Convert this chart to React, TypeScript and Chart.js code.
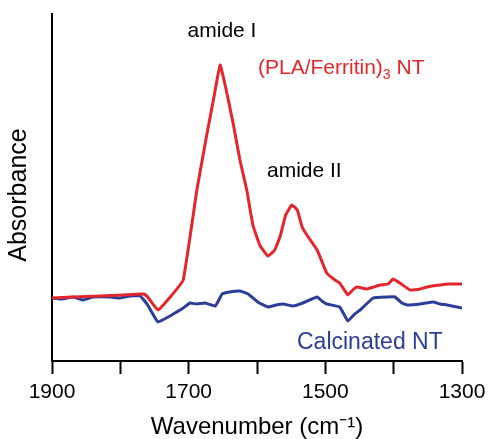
import React, { useEffect, useRef } from "react";
import { Chart, registerables } from "chart.js";

Chart.register(...registerables);

// (PLA/Ferritin)3 NT spectrum (arbitrary absorbance units)
const redWavenumbers = [
  1900, 1869, 1830, 1796, 1771, 1766, 1760, 1745, 1727, 1708, 1688, 1673, 1663, 1654,
  1646, 1635, 1625, 1615, 1606, 1596, 1584, 1574, 1566, 1558, 1549, 1541, 1534, 1527,
  1512, 1498, 1486, 1479, 1467, 1460, 1454, 1439, 1420, 1408, 1401, 1391, 1376, 1361,
  1351, 1332, 1318, 1300,
];
const redAbsorbance = [
  63, 64, 65, 66, 67, 67, 64, 51, 64, 81, 171, 228, 264, 296,
  274, 238, 201, 171, 136, 116, 105, 111, 125, 146, 156, 151, 134, 126,
  111, 88, 81, 78, 66, 71, 74, 72, 76, 77, 82, 78, 71, 72,
  74, 76, 77, 77,
];

// Calcinated NT spectrum
const blueWavenumbers = [
  1900, 1885, 1869, 1855, 1840, 1815, 1800, 1786, 1771, 1760, 1745, 1730, 1720, 1708,
  1698, 1688, 1676, 1661, 1651, 1640, 1625, 1613, 1599, 1584, 1572, 1562, 1547, 1533,
  1512, 1505, 1498, 1479, 1467, 1457, 1449, 1430, 1410, 1398, 1388, 1380, 1361, 1342,
  1332, 1322, 1300,
];
const blueAbsorbance = [
  63, 62, 64, 61, 64, 64, 63, 65, 65, 56, 39, 44, 48, 53,
  58, 57, 58, 55, 67, 69, 70, 67, 59, 54, 56, 57, 55, 58,
  64, 60, 57, 54, 40, 47, 51, 63, 64, 64, 58, 56, 57, 59,
  57, 56, 53,
];

const xTickLabels = ["1900", "1700", "1500", "1300"];
const seriesNames = ["(PLA/Ferritin)3 NT", "Calcinated NT"];

const RED = "#e3262b";
const BLUE = "#2c3d98";
const FONT = "'Liberation Sans', Arial, sans-serif";

const annotationPlugin = {
  id: "annotations",
  afterDatasetsDraw(chart: any) {
    const ctx = chart.ctx as CanvasRenderingContext2D;
    ctx.save();
    ctx.textBaseline = "middle";

    ctx.fillStyle = "#000";
    ctx.font = `21px ${FONT}`;
    ctx.textAlign = "center";
    ctx.fillText("amide I", 222, 31);
    ctx.textAlign = "left";
    ctx.fillText("amide II", 267, 171);

    // y axis title
    ctx.save();
    ctx.translate(19, 195);
    ctx.rotate(-Math.PI / 2);
    ctx.textAlign = "center";
    ctx.font = `25px ${FONT}`;
    ctx.fillText("Absorbance", 0, 0);
    ctx.restore();

    // red label with subscript
    ctx.fillStyle = RED;
    ctx.font = `21px ${FONT}`;
    let x = 258;
    const main = "(PLA/Ferritin)";
    ctx.fillText(main, x, 68);
    x += ctx.measureText(main).width;
    ctx.font = `14px ${FONT}`;
    ctx.fillText("3", x, 75);
    x += ctx.measureText("3").width;
    ctx.font = `21px ${FONT}`;
    ctx.fillText(" NT", x, 68);

    ctx.fillStyle = BLUE;
    ctx.font = `23px ${FONT}`;
    ctx.fillText(seriesNames[1], 297, 343);
    ctx.restore();
  },
};

export default function App() {
  const canvasRef = useRef<HTMLCanvasElement | null>(null);

  useEffect(() => {
    if (!canvasRef.current) return;
    const red = redWavenumbers.map((w, i) => ({ x: w, y: redAbsorbance[i] }));
    const blue = blueWavenumbers.map((w, i) => ({ x: w, y: blueAbsorbance[i] }));
    const chart = new Chart(canvasRef.current, {
      type: "line",
      data: {
        datasets: [
          {
            label: seriesNames[0],
            data: red,
            borderColor: RED,
            borderWidth: 3,
            pointRadius: 0,
            tension: 0.1,
            fill: false,
          },
          {
            label: seriesNames[1],
            data: blue,
            borderColor: BLUE,
            borderWidth: 3,
            pointRadius: 0,
            tension: 0.1,
            fill: false,
          },
        ],
      },
      options: {
        animation: false,
        responsive: false,
        layout: { padding: { top: 14, right: 26, left: 0, bottom: 0 } },
        plugins: {
          legend: { display: false },
          tooltip: { enabled: false },
        },
        scales: {
          x: {
            type: "linear",
            min: 1300,
            max: 1900,
            reverse: true,
            afterFit: (scale: any) => {
              scale.height = 78;
              scale.paddingLeft = 0;
              scale.paddingRight = 0;
            },
            border: { display: true, color: "#000", width: 2 },
            grid: {
              display: true,
              drawOnChartArea: false,
              drawTicks: true,
              tickLength: 13,
              tickWidth: 2,
              tickColor: "#000",
            },
            ticks: {
              stepSize: 100,
              color: "#000",
              padding: 6,
              maxRotation: 0,
              font: { family: FONT, size: 21 },
              callback: (value: any) =>
                xTickLabels.includes(String(value)) ? String(value) : "",
            },
            title: {
              display: true,
              text: "Wavenumber (cm\u207B\u00B9)",
              color: "#000",
              font: { family: FONT, size: 24, lineHeight: 1 },
              padding: { top: 0, bottom: 0 },
            },
          },
          y: {
            type: "linear",
            min: 0,
            max: 347,
            afterFit: (scale: any) => {
              scale.width = 52;
            },
            border: { display: true, color: "#000", width: 2 },
            grid: { display: false, drawTicks: false },
            ticks: { display: false },
            title: { display: false },
          },
        },
      },
      plugins: [annotationPlugin],
    });
    return () => chart.destroy();
  }, []);

  return (
    <div style={{ position: "fixed", left: 0, top: 0, width: 488, height: 439, background: "#fff" }}>
      <canvas ref={canvasRef} width={488} height={439} />
    </div>
  );
}
